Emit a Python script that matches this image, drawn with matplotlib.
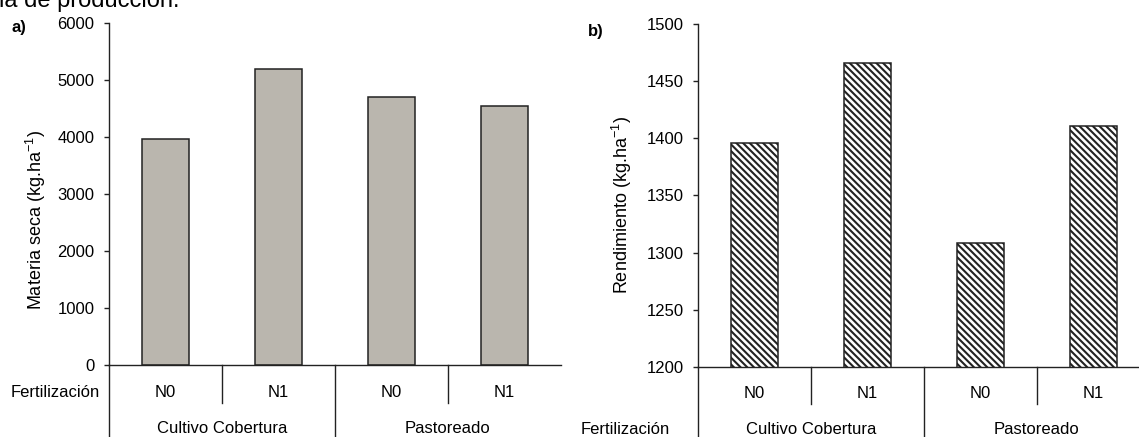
import matplotlib.pyplot as plt
import matplotlib.transforms as mtransforms

plt.rcParams['font.family'] = ['Liberation Sans', 'DejaVu Sans']
plt.rcParams['mathtext.fontset'] = 'custom'
plt.rcParams['mathtext.rm'] = 'Liberation Sans'
plt.rcParams['mathtext.default'] = 'regular'
plt.rcParams['hatch.linewidth'] = 1.5
plt.rcParams['hatch.color'] = '#111111'

# datos por tratamiento
grupos = ['Cultivo Cobertura', 'Pastoreado']
fertilizacion = ['N0', 'N1', 'N0', 'N1']
materia_seca = [3960, 5200, 4700, 4550]
rendimiento = [1396, 1466, 1308, 1411]

fig = plt.figure(figsize=(11.39, 4.37), dpi=100)
ax_a = fig.add_axes([0.0957, 0.1648, 0.3968, 0.7826])
ax_b = fig.add_axes([0.6128, 0.1602, 0.3968, 0.7850])

x = [0.5, 1.5, 2.5, 3.5]
fs = 12


def tabla(ax, y_fert, y_grupo, y_corto, fert_label_pos):
    trans = mtransforms.blended_transform_factory(ax.transData, ax.transAxes)
    for xi, lab in zip(x, fertilizacion):
        ax.text(xi, y_fert, lab, transform=trans, ha='center', va='center', fontsize=fs)
    for gi, g in enumerate(grupos):
        ax.text(1 + 2 * gi, y_grupo, g, transform=trans, ha='center', va='center', fontsize=fs)
    # separadores de la tabla bajo el eje
    for xv in [0, 2]:
        ax.plot([xv, xv], [0, -0.3], transform=trans, color='#222222', lw=1.0, clip_on=False)
    for xv in [1, 3]:
        ax.plot([xv, xv], [0, y_corto], transform=trans, color='#222222', lw=1.0, clip_on=False)
    fx, fy = fert_label_pos
    ax.text(fx, fy, 'Fertilización', transform=ax.transAxes, ha='right', va='center', fontsize=fs)


def estilo(ax):
    ax.spines['top'].set_visible(False)
    ax.spines['right'].set_visible(False)
    ax.spines['left'].set_linewidth(1.0)
    ax.spines['bottom'].set_linewidth(1.0)
    ax.spines['left'].set_color('#222222')
    ax.spines['bottom'].set_color('#222222')
    ax.set_xlim(0, 4)
    ax.set_xticks([])
    ax.tick_params(axis='y', length=3.5, width=1.0, pad=7, labelsize=fs, color='#222222')


# a) materia seca
ax_a.bar(x, materia_seca, width=0.41, color='#bab6ae', edgecolor='#222222', linewidth=1.1)
estilo(ax_a)
ax_a.set_ylim(0, 6000)
ax_a.set_yticks(range(0, 6001, 1000))
ax_a.set_ylabel('Materia seca (kg.ha$^{-1}$)', fontsize=13, va='center')
ax_a.yaxis.set_label_coords(-0.161, 0.424)
tabla(ax_a, -0.079, -0.187, -0.111, (-0.02, -0.079))

# b) rendimiento
ax_b.bar(x, rendimiento, width=0.41, color='white', edgecolor='#222222',
         linewidth=1.1, hatch='\\' * 5)
estilo(ax_b)
ax_b.set_ylim(1200, 1500)
ax_b.set_yticks(range(1200, 1501, 50))
ax_b.set_ylabel('Rendimiento (kg.ha$^{-1}$)', fontsize=13, va='center')
ax_b.yaxis.set_label_coords(-0.168, 0.472)
tabla(ax_b, -0.076, -0.181, -0.108, (-0.062, -0.181))

fig.text(0.0105, 0.936, 'a)', fontsize=fs, fontweight='bold', ha='left', va='center')
fig.text(0.516, 0.927, 'b)', fontsize=fs, fontweight='bold', ha='left', va='center')
fig.text(-0.001, 0.984, 'ia de producción.', fontsize=17, ha='left', va='baseline')

fig.savefig('out.png', dpi=100)
